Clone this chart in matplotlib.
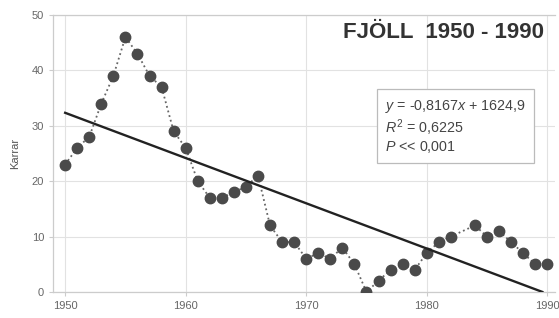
import matplotlib
matplotlib.use("Agg")
import matplotlib.pyplot as plt

# Data
years = [1950, 1951, 1952, 1953, 1954, 1955, 1956, 1957, 1958, 1959,
         1960, 1961, 1962, 1963, 1964, 1965, 1966, 1967, 1968, 1969,
         1970, 1971, 1972, 1973, 1974, 1975, 1976, 1977, 1978, 1979,
         1980, 1981, 1982, 1984, 1985, 1986, 1987, 1988, 1989, 1990]
karrar = [23, 26, 28, 34, 39, 46, 43, 39, 37, 29,
          26, 20, 17, 17, 18, 19, 21, 12, 9, 9,
          6, 7, 6, 8, 5, 0, 2, 4, 5, 4,
          7, 9, 10, 12, 10, 11, 9, 7, 5, 5]

# Regressionslinje
slope = -0.8167
intercept = 1624.9
trend_x = [1950, -intercept / slope]

x_ticks = [1950, 1960, 1970, 1980, 1990]
y_ticks = [0, 10, 20, 30, 40, 50]

plt.rcParams["font.family"] = ["Liberation Sans", "DejaVu Sans"]
plt.rcParams["mathtext.fontset"] = "custom"
plt.rcParams["mathtext.rm"] = "Liberation Sans"
plt.rcParams["mathtext.it"] = "Liberation Sans:italic"

fig = plt.figure(figsize=(5.59, 3.18), dpi=100)
ax = fig.add_axes([0.095, 0.082, 0.898, 0.871])

ax.plot(years, karrar, linestyle=":", color="#666666", linewidth=1.3,
        marker="o", markersize=7.5, markerfacecolor="#4a4a4a",
        markeredgecolor="#4a4a4a", zorder=3)
ax.plot(trend_x, [slope * x + intercept for x in trend_x],
        color="#222222", linewidth=1.7, zorder=4)

ax.set_xlim(1949.0, 1990.65)
ax.set_ylim(0, 50)
ax.set_xticks(x_ticks)
ax.set_yticks(y_ticks)
ax.grid(color="#e2e2e2", linewidth=0.8)
ax.set_axisbelow(True)

for side in ["left", "bottom", "top"]:
    ax.spines[side].set_color("#cccccc")
    ax.spines[side].set_linewidth(0.9)
ax.spines["right"].set_visible(False)
ax.tick_params(colors="#cccccc", labelcolor="#666666", labelsize=8,
               length=3, width=0.8)

ax.set_ylabel("Karrar", fontsize=8, color="#555555", labelpad=8)

ax.text(0.978, 0.935, "FJÖLL  1950 - 1990", transform=ax.transAxes,
        ha="right", va="center", fontsize=16, fontweight="bold",
        color="#333333")

ax.text(0.661, 0.70,
        "$y$ = -0,8167$x$ + 1624,9\n$R^2$ = 0,6225\n$P$ << 0,001",
        transform=ax.transAxes, ha="left", va="top", fontsize=10.3,
        color="#444444", linespacing=1.12,
        bbox=dict(boxstyle="square,pad=0.55", facecolor="white",
                  edgecolor="#bbbbbb", linewidth=0.9))

fig.savefig("out.png", dpi=100)
